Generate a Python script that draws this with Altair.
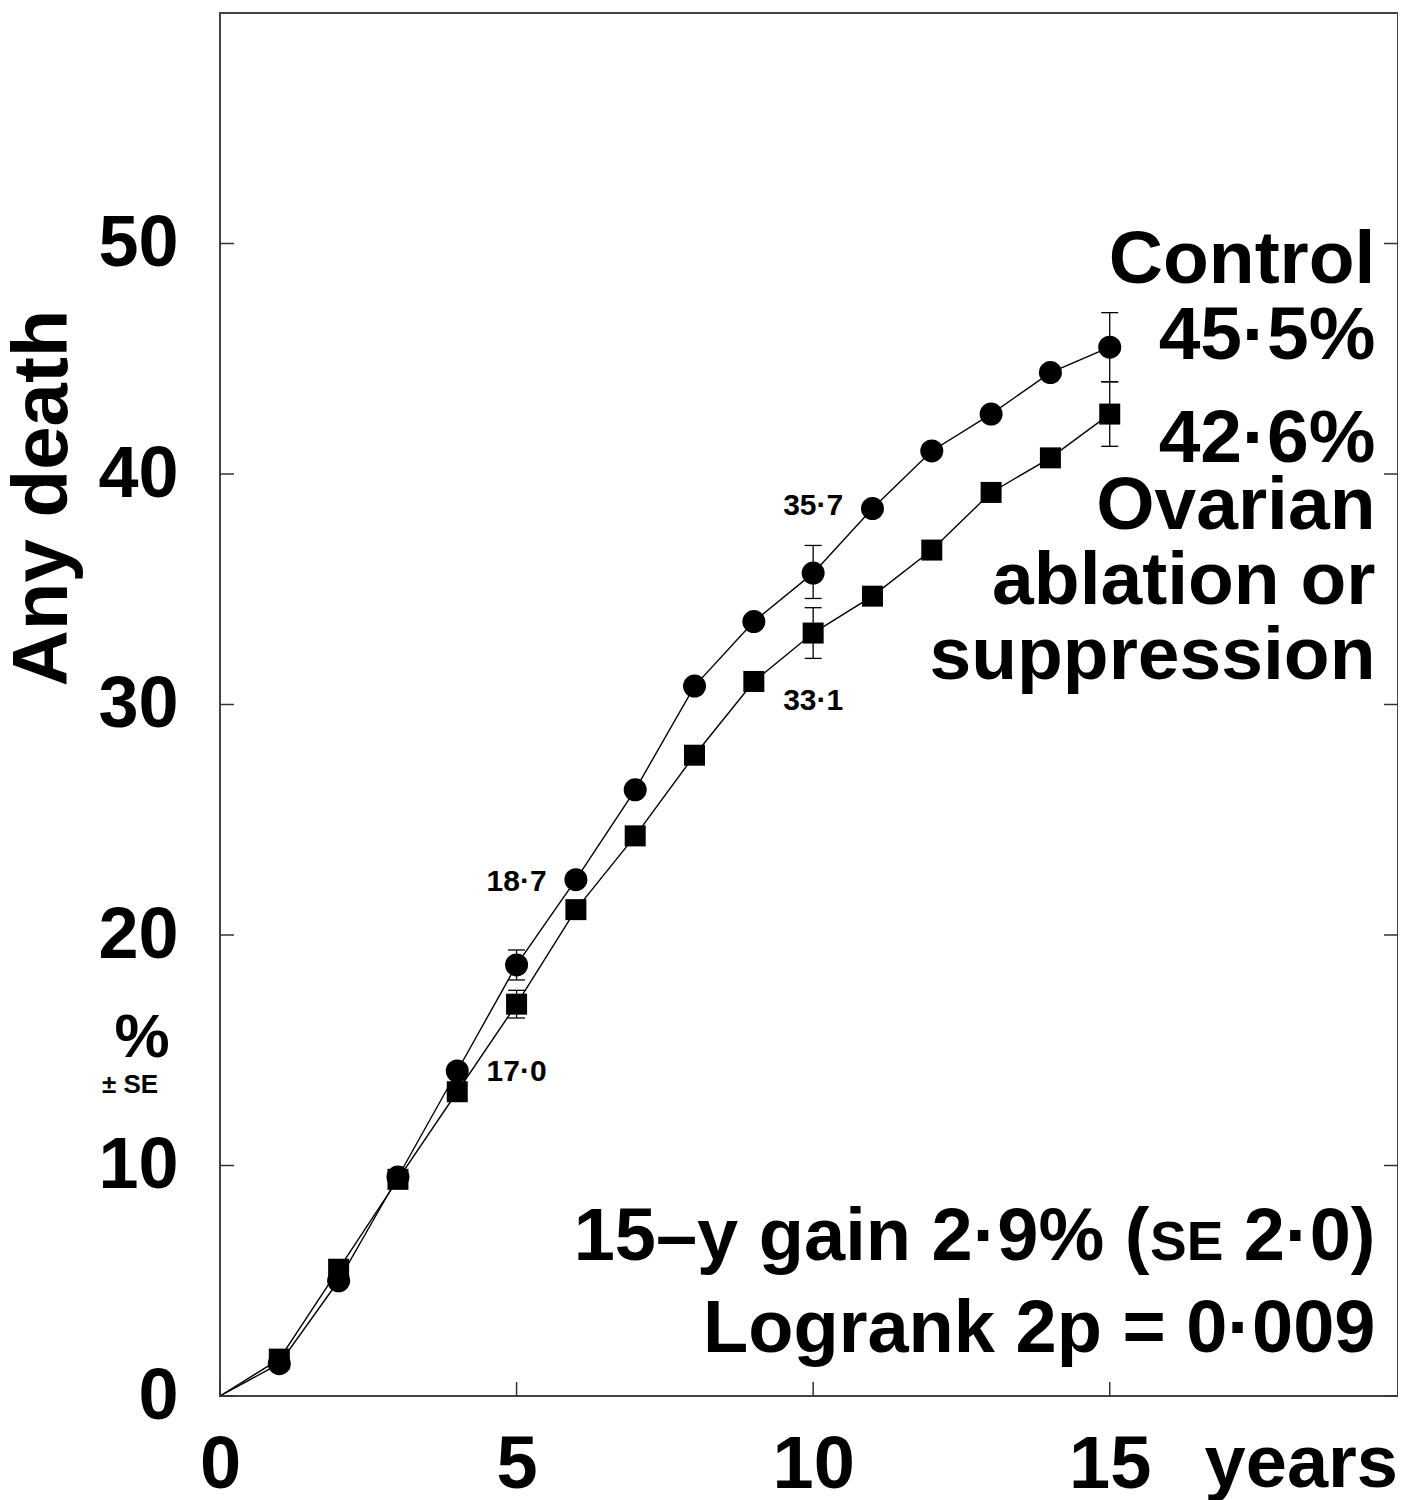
import altair as alt
import pandas as pd

# ---------------- data ----------------
years = list(range(16))
control = [0, 1.4, 5.0, 9.5, 14.1, 18.7, 22.4, 26.3, 30.8, 33.6, 35.7, 38.5, 41.0, 42.6, 44.4, 45.5]
ovarian = [0, 1.6, 5.5, 9.4, 13.2, 17.0, 21.1, 24.3, 27.8, 31.0, 33.1, 34.7, 36.7, 39.2, 40.7, 42.6]

se_years = [5, 10, 15]
control_lo = [18.05, 34.6, 44.0]
control_hi = [19.35, 36.9, 47.0]
ovarian_lo = [16.4, 32.0, 41.2]
ovarian_hi = [17.6, 34.2, 44.0]

x_tick_values = [0, 5, 10, 15]
y_tick_values = [0, 10, 20, 30, 40, 50]
x_inner_ticks = [0, 5, 10, 15]

value_labels = ["18·7", "17·0", "35·7", "33·1"]
value_label_x = [5, 5, 10, 10]
value_label_y = [21.9, 13.67, 38.2, 29.76]

legend_texts = ["Control", "45·5%", "42·6%", "Ovarian", "ablation or", "suppression"]
legend_y = [48.3, 45.0, 40.5, 37.63, 34.36, 31.12]
legend_x = 19.48

gain_main = "15–y gain 2·9% ("
gain_se = "SE"
gain_end = "2·0)"
gain_y = 5.9
logrank_y = 1.9
logrank_text = "Logrank 2p = 0·009"

# ---------------- frames ----------------
series = pd.DataFrame(
    {"year": years * 2,
     "value": control + ovarian,
     "group": ["Control"] * len(years) + ["Ovarian"] * len(years)}
)
errs = pd.DataFrame(
    {"year": se_years * 2,
     "lo": control_lo + ovarian_lo,
     "hi": control_hi + ovarian_hi,
     "group": ["Control"] * 3 + ["Ovarian"] * 3}
)
vlab = pd.DataFrame({"text": value_labels, "x": value_label_x, "y": value_label_y})
leg = pd.DataFrame({"text": legend_texts, "y": legend_y, "x": [legend_x] * len(legend_texts)})
yt = pd.DataFrame({"v": y_tick_values})
xt = pd.DataFrame({"v": x_inner_ticks})

W, H = 1178, 1383
FONT = "Liberation Sans"

xs = alt.Scale(domain=[0, 19.86], nice=False, zero=False)
ys = alt.Scale(domain=[0, 60], nice=False, zero=False)

X = alt.X("year:Q", scale=xs,
          axis=alt.Axis(values=x_tick_values, format="d", title=None, ticks=False, tickSize=0,
                        domain=False, grid=False, labelFontSize=74, labelFont=FONT,
                        labelFontWeight="bold", labelColor="black", labelBaseline="alphabetic",
                        labelPadding=91, labelFlush=False, labelAlign="center"))
Y = alt.Y("value:Q", scale=ys,
          axis=alt.Axis(values=y_tick_values, format="d", title=None, ticks=False, tickSize=0,
                        domain=False, grid=False, labelFontSize=72, labelFont=FONT,
                        labelFontWeight="bold", labelColor="black", labelPadding=42,
                        labelFlush=False))

base = alt.Chart(series)

lines = base.mark_line(color="black", strokeWidth=1.4).encode(x=X, y=Y, detail="group:N")

points = base.transform_filter("datum.year > 0").mark_point(filled=True, color="black", opacity=1).encode(
    x=alt.X("year:Q", scale=xs),
    y=alt.Y("value:Q", scale=ys),
    shape=alt.Shape("group:N", scale=alt.Scale(domain=["Control", "Ovarian"], range=["circle", "square"]), legend=None),
    size=alt.Size("group:N", scale=alt.Scale(domain=["Control", "Ovarian"], range=[529, 441]), legend=None),
)

ebase = alt.Chart(errs)
erules = ebase.mark_rule(color="black", strokeWidth=1.3).encode(
    x=alt.X("year:Q", scale=xs), y=alt.Y("lo:Q", scale=ys), y2="hi:Q")
ecap_lo = ebase.mark_tick(orient="horizontal", size=17, thickness=1.3, color="black", opacity=1).encode(
    x=alt.X("year:Q", scale=xs), y=alt.Y("lo:Q", scale=ys))
ecap_hi = ebase.mark_tick(orient="horizontal", size=17, thickness=1.3, color="black", opacity=1).encode(
    x=alt.X("year:Q", scale=xs), y=alt.Y("hi:Q", scale=ys))

# inward ticks
lt = alt.Chart(yt).mark_rule(color="#333", strokeWidth=1.5).encode(
    y=alt.Y("v:Q", scale=ys), x=alt.value(0), x2=alt.value(14))
rt = alt.Chart(yt).mark_rule(color="#333", strokeWidth=1.5).encode(
    y=alt.Y("v:Q", scale=ys), x=alt.value(W - 14), x2=alt.value(W))
bt = alt.Chart(xt).mark_rule(color="#333", strokeWidth=1.5).encode(
    x=alt.X("v:Q", scale=xs), y=alt.value(H), y2=alt.value(H - 14))

# value labels
vtext = alt.Chart(vlab).mark_text(font=FONT, fontWeight="bold", fontSize=30, color="black",
                                  align="center", baseline="alphabetic").encode(
    x=alt.X("x:Q", scale=xs), y=alt.Y("y:Q", scale=ys), text="text:N")

legtext = alt.Chart(leg).mark_text(font=FONT, fontWeight="bold", fontSize=75, color="black",
                                   align="right", baseline="alphabetic").encode(
    x=alt.X("x:Q", scale=xs), y=alt.Y("y:Q", scale=ys), text="text:N")

one = pd.DataFrame({"x": [legend_x], "gy": [gain_y], "ly": [logrank_y]})
g_end = alt.Chart(one).mark_text(font=FONT, fontWeight="bold", fontSize=74, color="black",
                                 align="right", baseline="alphabetic", text=gain_end).encode(
    x=alt.X("x:Q", scale=xs), y=alt.Y("gy:Q", scale=ys))
g_se = alt.Chart(one).mark_text(font=FONT, fontWeight="bold", fontSize=55, color="black",
                                align="right", baseline="alphabetic", text=gain_se, dx=-152).encode(
    x=alt.X("x:Q", scale=xs), y=alt.Y("gy:Q", scale=ys))
g_main = alt.Chart(one).mark_text(font=FONT, fontWeight="bold", fontSize=74, color="black",
                                  align="right", baseline="alphabetic", text=gain_main, dx=-226).encode(
    x=alt.X("x:Q", scale=xs), y=alt.Y("gy:Q", scale=ys))
logr = alt.Chart(one).mark_text(font=FONT, fontWeight="bold", fontSize=74, color="black",
                                align="right", baseline="alphabetic", text=logrank_text).encode(
    x=alt.X("x:Q", scale=xs), y=alt.Y("ly:Q", scale=ys))

# titles / outside text
ytitle = alt.Chart(one).mark_text(font=FONT, fontWeight="bold", fontSize=78, color="black",
                                  align="center", baseline="alphabetic", angle=270,
                                  text="Any death").encode(x=alt.value(-153), y=alt.value(485))
pct = alt.Chart(one).mark_text(font=FONT, fontWeight="bold", fontSize=62, color="black",
                               align="center", baseline="alphabetic", text="%").encode(
    x=alt.value(-78), y=alt.value(1044))
pmse = alt.Chart(one).mark_text(font=FONT, fontWeight="bold", fontSize=26, color="black",
                                align="center", baseline="alphabetic", text="± SE").encode(
    x=alt.value(-90), y=alt.value(1080))
yrs = alt.Chart(one).mark_text(font=FONT, fontWeight="bold", fontSize=74, color="black",
                               align="right", baseline="alphabetic", text="years").encode(
    x=alt.value(1178), y=alt.value(1474))

chart = alt.layer(
    lines, points, erules, ecap_lo, ecap_hi, lt, rt, bt, vtext, legtext,
    g_end, g_se, g_main, logr, ytitle, pct, pmse, yrs
).properties(
    width=W, height=H,
    autosize=alt.AutoSizeParams(type="none"),
    padding={"left": 212, "top": 5, "right": 0, "bottom": 104},
    background="white",
).configure_view(stroke="#444", strokeWidth=2)

chart.save("out.html", embed_options={"renderer": "svg", "actions": False})
